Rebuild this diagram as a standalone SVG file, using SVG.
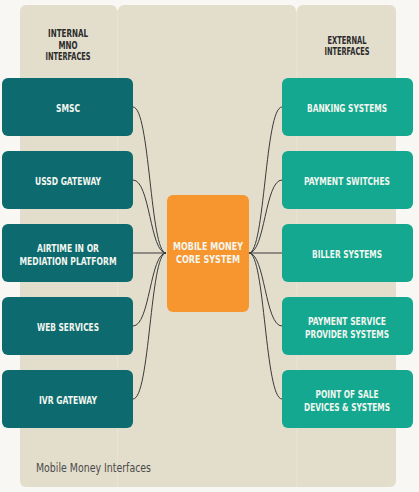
<svg xmlns="http://www.w3.org/2000/svg" width="419" height="492" viewBox="0 0 419 492">
<style>
.panel{fill:#e3ddcc}
.int{fill:#0d6a6e}
.ext{fill:#13a88f}
.core{fill:#f7962f}
.lbl{font-family:"DejaVu Sans Condensed","DejaVu Sans",sans-serif;font-weight:bold;font-size:10.5px;fill:#f2f6f0;text-anchor:middle}
.hdr{font-family:"DejaVu Sans Condensed","DejaVu Sans",sans-serif;font-weight:bold;font-size:10px;fill:#2b2b2b;text-anchor:middle}
.title{font-family:"DejaVu Sans Condensed","DejaVu Sans",sans-serif;font-size:13px;fill:#4a4a4a}
.conn path{fill:none;stroke:#3a3a3a;stroke-width:1}
</style>
<rect width="419" height="492" fill="#f8f7f3"/>
<g id="panels">
<rect class="panel" x="20" y="5" width="97" height="482" rx="6"/>
<rect class="panel" x="118" y="5" width="178" height="482" rx="6"/>
<rect class="panel" x="297" y="5" width="99" height="482" rx="6"/>
<rect class="panel" x="110" y="12" width="16" height="475"/>
<rect class="panel" x="290" y="12" width="14" height="475"/>
<line x1="117.5" y1="10" x2="117.5" y2="487" stroke="#e8e4d7" stroke-width="1"/>
<line x1="297" y1="10" x2="297" y2="487" stroke="#e8e4d7" stroke-width="1"/>
</g>
<g id="headers">
<text class="hdr" x="68" y="37" textLength="40" lengthAdjust="spacingAndGlyphs">INTERNAL</text>
<text class="hdr" x="68" y="49" textLength="19" lengthAdjust="spacingAndGlyphs">MNO</text>
<text class="hdr" x="68" y="60" textLength="45" lengthAdjust="spacingAndGlyphs">INTERFACES</text>
<text class="hdr" x="347" y="44" textLength="39" lengthAdjust="spacingAndGlyphs">EXTERNAL</text>
<text class="hdr" x="347" y="55" textLength="45" lengthAdjust="spacingAndGlyphs">INTERFACES</text>
<text class="title" x="36" y="472" textLength="115" lengthAdjust="spacingAndGlyphs">Mobile Money Interfaces</text>
</g>
<g class="conn" id="connectors">
<path d="M133,107 C150,107 150,253 166,253"/>
<path d="M133,180 C150,180 150,253 166,253"/>
<path d="M133,253 L166,253"/>
<path d="M133,326 C150,326 150,253 166,253"/>
<path d="M133,399 C150,399 150,253 166,253"/>
<path d="M282,107 C265,107 265,253 249,253"/>
<path d="M282,180 C265,180 265,253 249,253"/>
<path d="M282,253 L249,253"/>
<path d="M282,326 C265,326 265,253 249,253"/>
<path d="M282,399 C265,399 265,253 249,253"/>
</g>
<g id="smsc"><rect class="int" x="2" y="78" width="131" height="58" rx="6"/><text class="lbl" x="68" y="111.5" textLength="24" lengthAdjust="spacingAndGlyphs">SMSC</text></g>
<g id="ussd"><rect class="int" x="2" y="151" width="131" height="58" rx="6"/><text class="lbl" x="68" y="184.5" textLength="66" lengthAdjust="spacingAndGlyphs">USSD GATEWAY</text></g>
<g id="airtime"><rect class="int" x="2" y="224" width="131" height="58" rx="6"/><text class="lbl" x="68" y="252" textLength="62" lengthAdjust="spacingAndGlyphs">AIRTIME IN OR</text><text class="lbl" x="68" y="264.5" textLength="97" lengthAdjust="spacingAndGlyphs">MEDIATION PLATFORM</text></g>
<g id="web"><rect class="int" x="2" y="297" width="131" height="58" rx="6"/><text class="lbl" x="68" y="330.5" textLength="62" lengthAdjust="spacingAndGlyphs">WEB SERVICES</text></g>
<g id="ivr"><rect class="int" x="2" y="370" width="131" height="58" rx="6"/><text class="lbl" x="68" y="403.5" textLength="58" lengthAdjust="spacingAndGlyphs">IVR GATEWAY</text></g>
<g id="core"><rect class="core" x="167" y="195" width="82" height="117" rx="6"/><text class="lbl" x="208" y="250" textLength="70" lengthAdjust="spacingAndGlyphs">MOBILE MONEY</text><text class="lbl" x="208" y="262.5" textLength="64" lengthAdjust="spacingAndGlyphs">CORE SYSTEM</text></g>
<g id="banking"><rect class="ext" x="282" y="78" width="131" height="58" rx="6"/><text class="lbl" x="347" y="111.5" textLength="80" lengthAdjust="spacingAndGlyphs">BANKING SYSTEMS</text></g>
<g id="switches"><rect class="ext" x="282" y="151" width="131" height="58" rx="6"/><text class="lbl" x="347" y="184.5" textLength="86" lengthAdjust="spacingAndGlyphs">PAYMENT SWITCHES</text></g>
<g id="biller"><rect class="ext" x="282" y="224" width="131" height="58" rx="6"/><text class="lbl" x="347" y="257.5" textLength="70" lengthAdjust="spacingAndGlyphs">BILLER SYSTEMS</text></g>
<g id="psp"><rect class="ext" x="282" y="297" width="131" height="58" rx="6"/><text class="lbl" x="347" y="325" textLength="78" lengthAdjust="spacingAndGlyphs">PAYMENT SERVICE</text><text class="lbl" x="347" y="337.5" textLength="84" lengthAdjust="spacingAndGlyphs">PROVIDER SYSTEMS</text></g>
<g id="pos"><rect class="ext" x="282" y="370" width="131" height="58" rx="6"/><text class="lbl" x="347" y="398" textLength="63" lengthAdjust="spacingAndGlyphs">POINT OF SALE</text><text class="lbl" x="347" y="410.5" textLength="86" lengthAdjust="spacingAndGlyphs">DEVICES &amp; SYSTEMS</text></g>
</svg>
